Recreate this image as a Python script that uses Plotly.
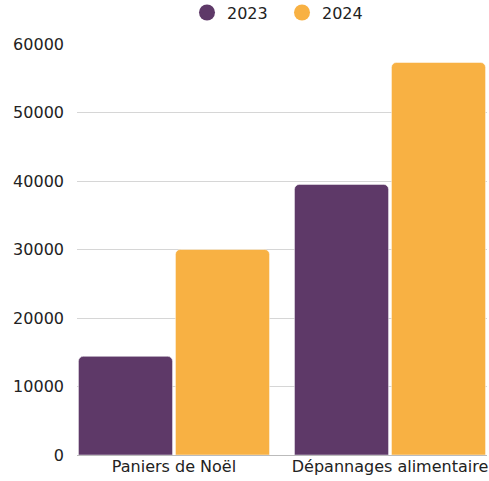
import plotly.graph_objects as go

categories = ["Paniers de Noël", "Dépannages alimentaire"]
series_names = ["2023", "2024"]
values_2023 = [14400, 39500]
values_2024 = [30000, 57300]
y_ticks = [0, 10000, 20000, 30000, 40000, 50000, 60000]

PURPLE = "#5E3968"
ORANGE = "#F8B143"
TEXT = "#222222"
GRID = "#D6D6D6"
FONT = "DejaVu Sans"

BARGAP = 0.102

fig = go.Figure()
for name, vals, color in zip(series_names, [values_2023, values_2024], [PURPLE, ORANGE]):
    fig.add_trace(go.Bar(
        x=categories, y=vals, name=name,
        marker=dict(color=color, line=dict(color="rgba(255,255,255,0.6)", width=0.8),
                    cornerradius=5),
        showlegend=False,
    ))
    # circle swatches for the legend
    fig.add_trace(go.Scatter(
        x=[None], y=[None], mode="markers", name=name,
        marker=dict(color=color, size=16, symbol="circle"),
    ))

fig.update_layout(
    width=489, height=481,
    margin=dict(l=77, r=2, t=44, b=26, autoexpand=False),
    paper_bgcolor="white", plot_bgcolor="white",
    font=dict(family=FONT, color=TEXT, size=16),
    barmode="group", bargap=BARGAP, bargroupgap=0.03,
    legend=dict(orientation="h", x=0.5, xanchor="center", y=1.035, yanchor="bottom",
                font=dict(size=16, color=TEXT), itemwidth=30, entrywidth=50,
                traceorder="normal"),
    xaxis=dict(range=[-0.5 + BARGAP / 2, 1.5 - BARGAP / 2], showgrid=False,
               showline=False, ticks="", tickfont=dict(size=16, color=TEXT)),
    yaxis=dict(range=[0, 60000], tickvals=y_ticks, ticktext=[str(v) for v in y_ticks],
               showgrid=True, gridcolor=GRID,
               gridwidth=1, zeroline=True, zerolinecolor="#BBBBBB", zerolinewidth=1,
               ticks="", ticklabelstandoff=12, tickfont=dict(size=16, color=TEXT)),
)

fig.write_html("out.html", config={"displayModeBar": False},
               post_script="document.body.style.margin='0';document.body.style.overflow='hidden';")
